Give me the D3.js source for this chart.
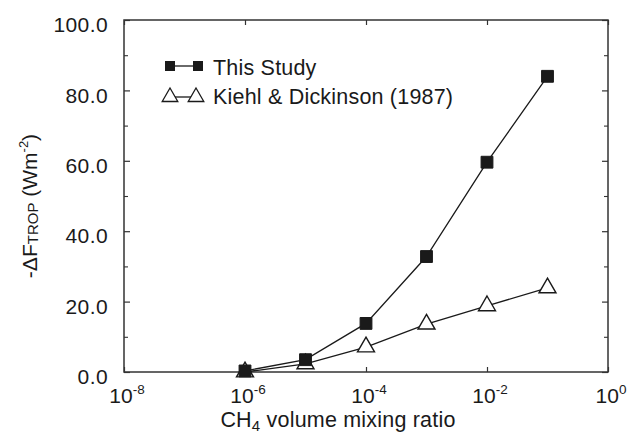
<!DOCTYPE html>
<html><head><meta charset="utf-8">
<script src="https://cdn.jsdelivr.net/npm/d3@7/dist/d3.min.js"></script>
<style>
html,body{margin:0;padding:0;background:#fff;}
svg{display:block;font-family:"Liberation Sans",Arial,Helvetica,sans-serif;}
</style></head>
<body><svg id="c" width="631" height="434"></svg>
<script>
const mixingRatios = [1e-6, 1e-5, 1e-4, 1e-3, 1e-2, 1e-1];
const thisStudy = [0.3, 3.5, 13.8, 32.8, 59.6, 84.0];
const kiehlDickinson = [0.0, 2.3, 7.1, 13.6, 18.8, 23.9];
const seriesNames = ["This Study", "Kiehl & Dickinson (1987)"];
const xTickExps = [-8, -6, -4, -2, 0];
const yTicks = [0, 20, 40, 60, 80, 100];
const yMinorTicks = [10, 30, 50, 70, 90];

const svg = d3.select("#c");
const L = 124, R = 608, T = 20, B = 372;
const x = d3.scaleLog().domain([1e-8, 1]).range([L, R]);
const y = d3.scaleLinear().domain([0, 100]).range([B, T]);
const ink = "#1a1a1a";

// frame
svg.append("rect").attr("x", L).attr("y", T).attr("width", R - L).attr("height", B - T)
  .attr("fill", "none").attr("stroke", "#333").attr("stroke-width", 1.5);

// y axis (left) with labels
const yAxisL = d3.axisLeft(y).tickValues(yTicks).tickSize(-6).tickPadding(16)
  .tickFormat(d3.format(".1f"));
const gyl = svg.append("g").attr("transform", `translate(${L},0)`).call(yAxisL);
gyl.select(".domain").remove();
gyl.selectAll(".tick line").attr("stroke", "#333").attr("stroke-width", 1.2);
gyl.selectAll(".tick text").attr("font-size", 21).attr("fill", ink).attr("letter-spacing", 0.4)
  .attr("font-family", "Liberation Sans, Arial, sans-serif").attr("dy", "0.72em").attr("y", -3.5);

// minor left/right
[[L, 1], [R, -1]].forEach(([px, dir]) => {
  const g = svg.append("g").attr("transform", `translate(${px},0)`);
  g.call(d3.axisLeft(y).tickValues(yMinorTicks).tickSize(-4 * dir).tickFormat(""));
  g.select(".domain").remove();
  g.selectAll(".tick line").attr("stroke", "#333").attr("stroke-width", 1.1);
});
// major right
const gyr = svg.append("g").attr("transform", `translate(${R},0)`)
  .call(d3.axisRight(y).tickValues(yTicks).tickSize(-6).tickFormat(""));
gyr.select(".domain").remove();
gyr.selectAll(".tick line").attr("stroke", "#333").attr("stroke-width", 1.2);

// x axes
const xTickVals = xTickExps.map(e => Math.pow(10, e));
const gxb = svg.append("g").attr("transform", `translate(0,${B})`)
  .call(d3.axisBottom(x).tickValues(xTickVals).tickSize(-5).tickFormat(""));
gxb.select(".domain").remove();
gxb.selectAll(".tick line").attr("stroke", "#333").attr("stroke-width", 1.2);
const gxt = svg.append("g").attr("transform", `translate(0,${T})`)
  .call(d3.axisTop(x).tickValues(xTickVals).tickSize(-5).tickFormat(""));
gxt.select(".domain").remove();
gxt.selectAll(".tick line").attr("stroke", "#333").attr("stroke-width", 1.2);

// x tick labels with superscripts
xTickExps.forEach(e => {
  const t = svg.append("text").attr("x", x(Math.pow(10, e)) + 3).attr("y", 403)
    .attr("text-anchor", "middle").attr("fill", ink).attr("font-size", 21);
  t.append("tspan").text("10");
  t.append("tspan").text(e === 0 ? "0" : "-" + Math.abs(e)).attr("font-size", 13.5).attr("dy", -9);
});

// axis titles
const xt = svg.append("text").attr("x", 338).attr("y", 427).attr("text-anchor", "middle")
  .attr("fill", ink).attr("font-size", 21.5).attr("letter-spacing", 0.2);
xt.append("tspan").text("CH");
xt.append("tspan").text("4").attr("font-size", 15).attr("dy", 4);
xt.append("tspan").text(" volume mixing ratio").attr("dy", -4);

const yt = svg.append("text").attr("transform", "translate(37,206) rotate(-90)")
  .attr("text-anchor", "middle").attr("fill", ink).attr("font-size", 21);
yt.append("tspan").text("-ΔF");
yt.append("tspan").text("TROP").attr("font-size", 15).attr("dy", 1);
yt.append("tspan").text(" (Wm").attr("dy", -1);
yt.append("tspan").text("-2").attr("font-size", 13).attr("dy", -9);
yt.append("tspan").text(")").attr("dy", 9);

// series
const line = d3.line().x(d => x(d[0])).y(d => y(d[1]));
const ts = mixingRatios.map((m, i) => [m, thisStudy[i]]);
const kd = mixingRatios.map((m, i) => [m, kiehlDickinson[i]]);
[ts, kd].forEach(data => {
  svg.append("path").datum(data).attr("d", line).attr("fill", "none")
    .attr("stroke", ink).attr("stroke-width", 1.3);
});
const sq = d3.symbol().type(d3.symbolSquare).size(140);
const tri = d3.symbol().type(d3.symbolTriangle).size(125);
svg.selectAll(".kd").data(kd).join("path").attr("class", "kd")
  .attr("transform", d => `translate(${x(d[0])},${y(d[1])})`).attr("d", tri)
  .attr("fill", "#fff").attr("stroke", ink).attr("stroke-width", 1.4);
svg.selectAll(".ts").data(ts).join("path").attr("class", "ts")
  .attr("transform", d => `translate(${x(d[0])},${y(d[1])})`).attr("d", sq)
  .attr("fill", ink).attr("stroke", ink).attr("stroke-width", 1);

// legend
const lg = svg.append("g");
const sqL = d3.symbol().type(d3.symbolSquare).size(100);
const triL = d3.symbol().type(d3.symbolTriangle).size(105);
lg.append("line").attr("x1", 170).attr("x2", 198).attr("y1", 66).attr("y2", 66).attr("stroke", ink).attr("stroke-width", 1.3);
[170, 198].forEach(cx => lg.append("path").attr("d", sqL).attr("transform", `translate(${cx},66)`).attr("fill", ink));
lg.append("line").attr("x1", 170).attr("x2", 196).attr("y1", 97).attr("y2", 97).attr("stroke", ink).attr("stroke-width", 1.3);
[170, 196].forEach(cx => lg.append("path").attr("d", triL).attr("transform", `translate(${cx},97)`).attr("fill", "#fff").attr("stroke", ink).attr("stroke-width", 1.3));
lg.append("text").attr("x", 213).attr("y", 75).attr("font-size", 21.5).attr("letter-spacing", 0.2).attr("fill", ink).text(seriesNames[0]);
lg.append("text").attr("x", 213).attr("y", 104).attr("font-size", 21.5).attr("letter-spacing", 0.2).attr("fill", ink).text(seriesNames[1]);
</script></body></html>
